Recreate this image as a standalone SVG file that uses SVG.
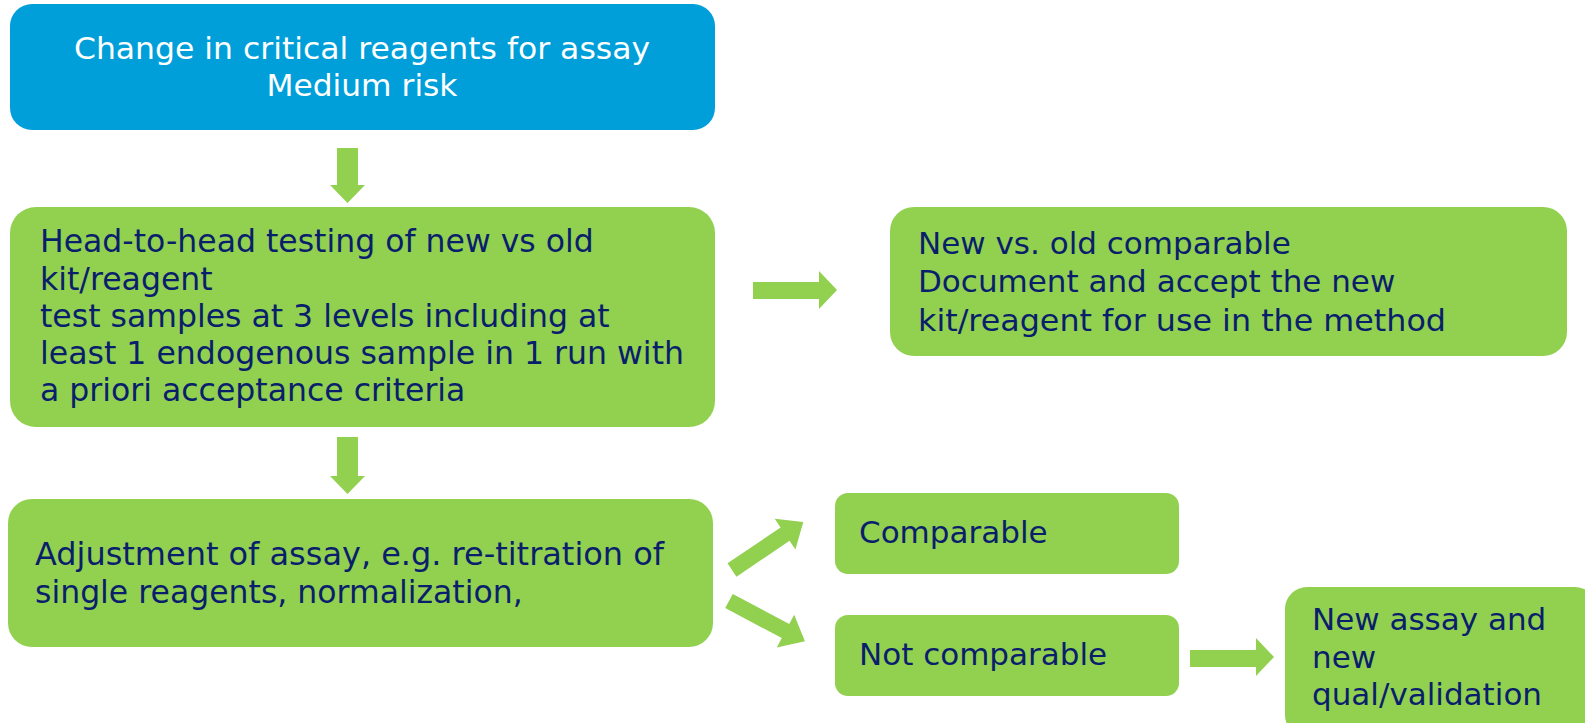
<svg xmlns="http://www.w3.org/2000/svg" width="1585" height="723" viewBox="0 0 1585 723">
  <style>
    .blue { fill: #009fda; }
    .green { fill: #92d050; }
    .arrow { fill: #92d050; }
    text { font-family: "DejaVu Sans", Verdana, sans-serif; font-size: 31px; }
    .big { font-size: 31.5px; }
    .dark { fill: #0a1f6b; }
    .light { fill: #ffffff; }
  </style>
  <defs>
    <!-- block arrow pointing along +x, tail centred at the origin -->
    <path id="diag-arrow" d="M0,-8 L64,-8 L64,-18.5 L86,0 L64,18.5 L64,8 L0,8 Z"/>
  </defs>

  <g id="connectors">
    <!-- vertical arrows -->
    <polygon class="arrow" points="337,148 358,148 358,185 365,185 347.5,203 330,185 337,185"/>
    <polygon class="arrow" points="337,437 358,437 358,476 365,476 347.5,494 330,476 337,476"/>
    <!-- horizontal arrows -->
    <polygon class="arrow" points="753,282 819,282 819,271 837,290 819,309 819,299 753,299"/>
    <polygon class="arrow" points="1190,650 1256,650 1256,638 1274,657 1256,676 1256,667 1190,667"/>
    <!-- diagonal arrows -->
    <use href="#diag-arrow" class="arrow" transform="translate(732,570) rotate(-34)"/>
    <use href="#diag-arrow" class="arrow" transform="translate(729,601) rotate(28)"/>
  </g>

  <g id="node-change">
    <rect class="blue" x="10" y="4" width="705" height="126" rx="22"/>
    <text class="light" x="362" y="59" text-anchor="middle" textLength="576" lengthAdjust="spacingAndGlyphs">Change in critical reagents for assay</text>
    <text class="light" x="362" y="96" text-anchor="middle" textLength="191" lengthAdjust="spacingAndGlyphs">Medium risk</text>
  </g>

  <g id="node-head-to-head">
    <rect class="green" x="10" y="207" width="705" height="220" rx="26"/>
    <text class="dark big" x="40" y="252">Head-to-head testing of new vs old</text>
    <text class="dark big" x="40" y="289.5">kit/reagent</text>
    <text class="dark big" x="40" y="327">test samples at 3 levels including at</text>
    <text class="dark big" x="40" y="364" textLength="644" lengthAdjust="spacingAndGlyphs">least 1 endogenous sample in 1 run with</text>
    <text class="dark big" x="40" y="401">a priori acceptance criteria</text>
  </g>

  <g id="node-comparable-old">
    <rect class="green" x="890" y="207" width="677" height="149" rx="24"/>
    <text class="dark" x="918" y="253.5">New vs. old comparable</text>
    <text class="dark" x="918" y="292">Document and accept the new</text>
    <text class="dark" x="918" y="330.5" textLength="528" lengthAdjust="spacingAndGlyphs">kit/reagent for use in the method</text>
  </g>

  <g id="node-adjustment">
    <rect class="green" x="8" y="499" width="705" height="148" rx="24"/>
    <text class="dark big" x="35" y="565" textLength="629" lengthAdjust="spacingAndGlyphs">Adjustment of assay, e.g. re-titration of</text>
    <text class="dark big" x="35" y="603">single reagents, normalization,</text>
  </g>

  <g id="node-comparable">
    <rect class="green" x="835" y="493" width="344" height="81" rx="13"/>
    <text class="dark" x="859" y="543">Comparable</text>
  </g>

  <g id="node-not-comparable">
    <rect class="green" x="835" y="615" width="344" height="81" rx="13"/>
    <text class="dark" x="859" y="665">Not comparable</text>
  </g>

  <g id="node-new-assay">
    <rect class="green" x="1285" y="587" width="312" height="150" rx="22"/>
    <text class="dark" x="1312" y="630">New assay and</text>
    <text class="dark" x="1312" y="668">new</text>
    <text class="dark" x="1312" y="705">qual/validation</text>
  </g>
</svg>
